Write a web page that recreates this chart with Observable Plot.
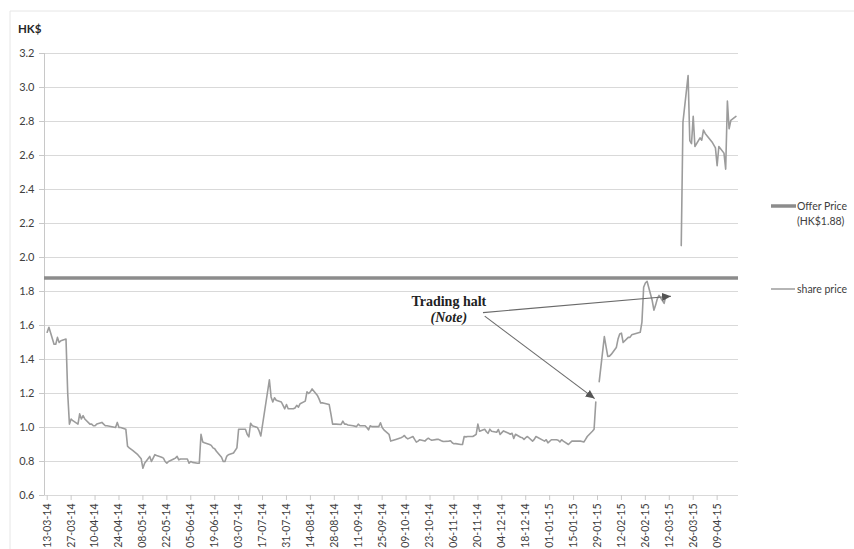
<!DOCTYPE html>
<html><head><meta charset="utf-8">
<script src="https://cdn.jsdelivr.net/npm/d3@7"></script>
<script src="https://cdn.jsdelivr.net/npm/@observablehq/plot@0.6"></script>
<style>body{margin:0;background:#fff;}</style>
</head><body><div id="chart"></div>
<script>
// ---- data ----
const dates = [
"2014-03-13","2014-03-14","2014-03-17","2014-03-18","2014-03-19","2014-03-20","2014-03-21","2014-03-24","2014-03-25","2014-03-26",
"2014-03-27","2014-03-28","2014-03-31","2014-04-01","2014-04-02","2014-04-03","2014-04-04","2014-04-07","2014-04-08","2014-04-09",
"2014-04-10","2014-04-11","2014-04-14","2014-04-15","2014-04-16","2014-04-17","2014-04-22","2014-04-23","2014-04-24","2014-04-25",
"2014-04-28","2014-04-29","2014-04-30","2014-05-02","2014-05-05","2014-05-07","2014-05-08","2014-05-09","2014-05-12","2014-05-13",
"2014-05-14","2014-05-15","2014-05-16","2014-05-19","2014-05-20","2014-05-21","2014-05-22","2014-05-23","2014-05-26","2014-05-27",
"2014-05-28","2014-05-29","2014-05-30","2014-06-03","2014-06-04","2014-06-05","2014-06-06","2014-06-09","2014-06-10","2014-06-11",
"2014-06-12","2014-06-13","2014-06-16","2014-06-17","2014-06-18","2014-06-19","2014-06-20","2014-06-23","2014-06-24","2014-06-25",
"2014-06-26","2014-06-27","2014-06-30","2014-07-02","2014-07-03","2014-07-04","2014-07-07","2014-07-08","2014-07-09","2014-07-10",
"2014-07-11","2014-07-14","2014-07-15","2014-07-16","2014-07-21","2014-07-22","2014-07-23","2014-07-24","2014-07-25","2014-07-28",
"2014-07-29","2014-07-30","2014-07-31","2014-08-01","2014-08-04","2014-08-05","2014-08-06","2014-08-07","2014-08-08","2014-08-11",
"2014-08-12","2014-08-13","2014-08-14","2014-08-15","2014-08-18","2014-08-19","2014-08-20","2014-08-21","2014-08-22","2014-08-25",
"2014-08-26","2014-08-27","2014-08-28","2014-08-29","2014-09-01","2014-09-02","2014-09-03","2014-09-04","2014-09-05","2014-09-08",
"2014-09-10","2014-09-11","2014-09-12","2014-09-15","2014-09-16","2014-09-17","2014-09-18","2014-09-19","2014-09-22","2014-09-23",
"2014-09-24","2014-09-25","2014-09-26","2014-09-29","2014-09-30","2014-10-03","2014-10-06","2014-10-07","2014-10-08","2014-10-09",
"2014-10-10","2014-10-13","2014-10-14","2014-10-15","2014-10-16","2014-10-17","2014-10-20","2014-10-21","2014-10-22","2014-10-23",
"2014-10-24","2014-10-27","2014-10-28","2014-10-29","2014-10-30","2014-10-31","2014-11-03","2014-11-04","2014-11-05","2014-11-06",
"2014-11-07","2014-11-10","2014-11-11","2014-11-12","2014-11-13","2014-11-14","2014-11-17","2014-11-18","2014-11-19","2014-11-20",
"2014-11-21","2014-11-24","2014-11-25","2014-11-26","2014-11-27","2014-11-28","2014-12-01","2014-12-02","2014-12-03","2014-12-04",
"2014-12-05","2014-12-08","2014-12-09","2014-12-10","2014-12-11","2014-12-12","2014-12-15","2014-12-16","2014-12-17","2014-12-18",
"2014-12-19","2014-12-22","2014-12-23","2014-12-24","2014-12-29","2014-12-30","2014-12-31","2015-01-02","2015-01-05","2015-01-06",
"2015-01-07","2015-01-08","2015-01-09","2015-01-12","2015-01-13","2015-01-14","2015-01-15","2015-01-16","2015-01-19","2015-01-20",
"2015-01-21","2015-01-22","2015-01-23","2015-01-26","2015-01-27","2015-01-28","2015-01-29","2015-01-30","2015-02-02","2015-02-03",
"2015-02-04","2015-02-05","2015-02-06","2015-02-09","2015-02-10","2015-02-11","2015-02-12","2015-02-13","2015-02-16","2015-02-17",
"2015-02-18","2015-02-23","2015-02-24","2015-02-25","2015-02-26","2015-02-27","2015-03-02","2015-03-03","2015-03-04","2015-03-05",
"2015-03-06","2015-03-09","2015-03-10","2015-03-11","2015-03-19","2015-03-20","2015-03-23","2015-03-24","2015-03-25","2015-03-26",
"2015-03-27","2015-03-30","2015-03-31","2015-04-01","2015-04-02","2015-04-06","2015-04-08","2015-04-09","2015-04-10","2015-04-13",
"2015-04-14","2015-04-15","2015-04-16","2015-04-17","2015-04-20"
];
const prices = [
1.56,1.59,1.49,1.49,1.53,1.50,1.51,1.52,1.20,1.02,
1.05,1.04,1.02,1.08,1.05,1.07,1.05,1.02,1.02,1.01,
1.01,1.02,1.03,1.02,1.01,1.01,1.00,1.03,1.00,1.00,
0.99,0.89,0.88,0.865,0.84,0.816,0.76,0.79,0.83,0.80,
0.82,0.84,0.835,0.825,0.82,0.80,0.79,0.80,0.815,0.82,
0.83,0.81,0.815,0.815,0.79,0.80,0.795,0.79,0.79,0.96,
0.915,0.91,0.90,0.895,0.88,0.875,0.86,0.825,0.80,0.80,
0.83,0.84,0.85,0.88,0.99,0.99,0.99,0.96,0.945,1.025,
1.01,1.00,0.98,0.95,1.28,1.18,1.15,1.175,1.16,1.15,
1.13,1.11,1.135,1.11,1.11,1.115,1.13,1.12,1.14,1.155,
1.21,1.20,1.21,1.227,1.19,1.17,1.145,1.145,1.143,1.135,
1.08,1.02,1.02,1.02,1.018,1.037,1.02,1.02,1.015,1.01,
1.005,1.02,1.01,1.01,1.00,0.986,1.01,1.005,1.005,1.005,
1.028,1.00,0.986,0.96,0.92,0.93,0.94,0.945,0.953,0.94,
0.933,0.947,0.93,0.914,0.92,0.928,0.92,0.93,0.937,0.93,
0.925,0.93,0.93,0.925,0.92,0.918,0.92,0.922,0.91,0.904,
0.905,0.90,0.90,0.947,0.945,0.947,0.947,0.953,0.96,1.02,
0.978,0.99,0.975,0.966,0.99,0.978,0.972,0.988,0.959,0.97,
0.98,0.966,0.96,0.966,0.936,0.96,0.943,0.94,0.93,0.94,
0.947,0.92,0.93,0.947,0.92,0.928,0.91,0.928,0.928,0.925,
0.915,0.928,0.92,0.90,0.91,0.92,0.92,0.92,0.92,0.918,
0.915,0.93,0.947,0.978,0.99,1.15,null,1.27,1.535,1.476,
1.418,1.42,1.43,1.47,1.52,1.55,1.555,1.50,1.53,1.53,
1.545,1.56,1.62,1.825,1.85,1.86,1.747,1.69,1.72,1.757,
1.777,1.73,1.777,null,2.07,2.796,3.07,2.688,2.67,2.83,
2.653,2.704,2.69,2.75,2.73,2.68,2.645,2.54,2.653,2.614,
2.52,2.92,2.757,2.806,2.83
];
const offerPrice = 1.88;
const yTicks = [0.6,0.8,1.0,1.2,1.4,1.6,1.8,2.0,2.2,2.4,2.6,2.8,3.0,3.2];
const xTickLabels = ["13-03-14","27-03-14","10-04-14","24-04-14","08-05-14","22-05-14","05-06-14","19-06-14","03-07-14","17-07-14",
"31-07-14","14-08-14","28-08-14","11-09-14","25-09-14","09-10-14","23-10-14","06-11-14","20-11-14","04-12-14","18-12-14",
"01-01-15","15-01-15","29-01-15","12-02-15","26-02-15","12-03-15","26-03-15","09-04-15"];
const xDomain = ["2014-03-11T10:00:00Z","2015-04-21T12:00:00Z"];
const haltText = ["Trading halt","(Note)"];
const haltTextPos = [{date:"2014-11-03", v:1.741}, {date:"2014-11-03", v:1.645}];
const haltArrows = [
  {x1:"2014-11-24", y1:1.655, x2:"2015-01-27T08:00:00Z", y2:1.17},
  {x1:"2014-11-23", y1:1.676, x2:"2015-03-13", y2:1.772}
];
const legendItems = ["Offer Price", "(HK$1.88)", "share price"];

// ---- build ----
const parseTick = d3.utcParse("%d-%m-%y");
const fmtTick = d3.utcFormat("%d-%m-%y");
const tickDates = xTickLabels.map(parseTick);
const series = dates.map((d, i) => ({date: new Date(d + "T00:00:00Z"), price: prices[i]}));
const textData = haltText.map((t, i) => ({t, date: new Date(haltTextPos[i].date + "T00:00:00Z"), v: haltTextPos[i].v}));
const toDate = s => new Date(s.length > 10 ? s : s + "T00:00:00Z");
const arrowData = haltArrows.map(a => ({x1: toDate(a.x1), y1: a.y1, x2: toDate(a.x2), y2: a.y2}));

const gridColor = "#d9d9d9";
const lineColor = "#9c9c9c";
const offerColor = "#8c8c8c";
const textColor = "#404040";

const svg = Plot.plot({
  width: 854, height: 549,
  marginLeft: 44, marginRight: 116, marginTop: 53, marginBottom: 54,
  style: {fontFamily: "Lato, 'Open Sans', sans-serif", fontSize: "11px", background: "#fff", color: textColor},
  x: {type: "utc", domain: xDomain.map(s => new Date(s))},
  y: {domain: [0.6, 3.2]},
  marks: [
    Plot.ruleY(yTicks, {stroke: gridColor, strokeWidth: 1}),
    Plot.ruleX([new Date(xDomain[0])], {stroke: "#c8c8c8", strokeWidth: 1}),
    Plot.axisY(yTicks, {tickFormat: d3.format(".1f"), tickSize: 5, tickPadding: 5, stroke: "#c8c8c8", fill: textColor, label: null, fontSize: 11}),
    Plot.axisX(tickDates, {tickFormat: fmtTick, tickRotate: -90, tickSize: 5, tickPadding: 3, stroke: "#c8c8c8", fill: textColor, label: null, fontSize: 10.5}),
    Plot.ruleY([offerPrice], {stroke: offerColor, strokeWidth: 3.5}),
    Plot.line(series, {x: "date", y: "price", stroke: lineColor, strokeWidth: 1.6, curve: "linear"}),
    Plot.link(arrowData, {x1: "x1", y1: "y1", x2: "x2", y2: "y2", stroke: "#6a6a6a", strokeWidth: 1.1}),
    Plot.text(textData, {x: "date", y: "v", text: "t", fontFamily: "'Liberation Serif', 'Times New Roman', serif",
      fontSize: 14, fontWeight: "bold", fill: "#222", textAnchor: "middle"})
  ]
});

const s = d3.select(svg);
// italic for the note line
s.selectAll('g[aria-label="text"] text').each(function(d, i) {
  if (i === 1) d3.select(this).attr("font-style", "italic");
});
// filled arrowheads
const defs = s.insert("defs", ":first-child");
defs.append("marker").attr("id", "haltHead").attr("viewBox", "0 -5 10 10")
  .attr("refX", 10).attr("refY", 0).attr("markerWidth", 9).attr("markerHeight", 9)
  .attr("markerUnits", "userSpaceOnUse").attr("orient", "auto")
  .append("path").attr("d", "M0,-4.5L10,0L0,4.5Z").attr("fill", "#555");
s.selectAll('g[aria-label="link"] path').attr("marker-end", "url(#haltHead)");

// light chart border
s.append("line").attr("x1", 10).attr("x2", 854).attr("y1", 11).attr("y2", 11).attr("stroke", "#e6e6e6");
s.append("line").attr("x1", 10).attr("x2", 10).attr("y1", 11).attr("y2", 549).attr("stroke", "#e6e6e6");

// y unit label
s.append("text").attr("x", 18).attr("y", 33).attr("text-anchor", "start").attr("font-weight", "bold").attr("font-size", 11.5)
  .attr("fill", "#262626").text("HK$");

// legend
const lg = s.append("g").attr("font-size", 10.5).attr("fill", textColor).attr("text-anchor", "start");
lg.append("line").attr("x1", 771).attr("x2", 796).attr("y1", 206).attr("y2", 206).attr("stroke", offerColor).attr("stroke-width", 3.5);
lg.append("text").attr("x", 797).attr("y", 206).attr("dy", "0.35em").text(legendItems[0]);
lg.append("text").attr("x", 797).attr("y", 221).attr("dy", "0.35em").text(legendItems[1]);
lg.append("line").attr("x1", 771).attr("x2", 795).attr("y1", 289).attr("y2", 289).attr("stroke", lineColor).attr("stroke-width", 1.5);
lg.append("text").attr("x", 797).attr("y", 289).attr("dy", "0.35em").text(legendItems[2]);

document.getElementById("chart").appendChild(svg);
</script>
</body></html>
